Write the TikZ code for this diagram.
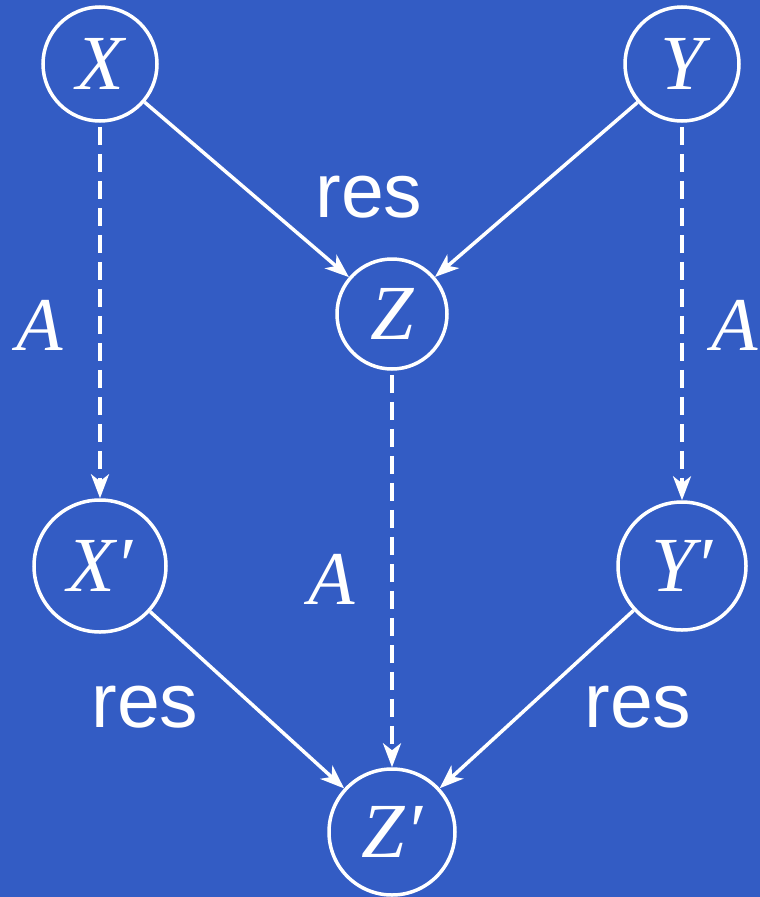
\documentclass[tikz,border=0pt]{standalone}
\usepackage{fontspec}
\setmainfont{Liberation Serif}
\newfontfamily\labfont{Liberation Sans}
\usetikzlibrary{arrows.meta}
\definecolor{bgblue}{RGB}{51,92,196}
\begin{document}
\begin{tikzpicture}[x=1pt,y=-1pt,
  vert/.style={circle,draw=white,line width=3.5pt,text=white,inner sep=0pt,font=\fontsize{78}{78}\selectfont\itshape},
  conn/.style={draw=white,line width=3.5pt,-{Stealth[length=24pt,width=18pt,inset=7pt]}},
  dconn/.style={conn,dash pattern=on 18pt off 9pt,shorten <=4pt},
  reslab/.style={text=white,font=\fontsize{77}{77}\labfont},
  alab/.style={text=white,font=\fontsize{76}{76}\selectfont\itshape}]
\fill[bgblue] (0,0) rectangle (760,897);
\useasboundingbox (0,0) rectangle (760,897);
\node[vert,minimum size=114pt] (X) at (100,64) {X};
\node[vert,minimum size=114pt] (Y) at (682,64) {Y};
\node[vert,minimum size=110pt] (Z) at (392,314) {Z};
\node[vert,minimum size=132pt] (Xp) at (100,566) {X′};
\node[vert,minimum size=128pt] (Yp) at (682,566) {Y′};
\node[vert,minimum size=126pt] (Zp) at (392,832) {Z′};
\draw[conn] (X) -- (Z);
\draw[conn] (Y) -- (Z);
\draw[dconn] (X) -- (Xp);
\draw[dconn] (Y) -- (Yp);
\draw[dconn] (Z) -- (Zp);
\draw[conn] (Xp) -- (Zp);
\draw[conn] (Yp) -- (Zp);
\node[reslab] (r1) at (369,197) {res};
\node[reslab] (r2) at (145,707) {res};
\node[reslab] (r3) at (638,707) {res};
\node[alab] (a1) at (40,325) {A};
\node[alab] (a2) at (735,325) {A};
\node[alab] (a3) at (332,579) {A};
\end{tikzpicture}
\end{document}
